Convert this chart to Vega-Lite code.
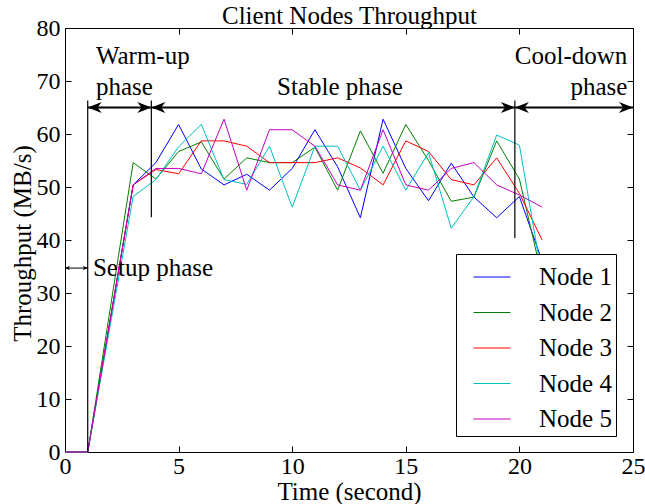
{
  "$schema": "https://vega.github.io/schema/vega-lite/v6.json",
  "autosize": {"type": "none"},
  "width": 568,
  "height": 424,
  "padding": {"left": 65, "top": 28, "right": 12, "bottom": 52},
  "background": "white",
  "config": {
    "view": {"stroke": "black", "strokeWidth": 1},
    "axis": {
      "grid": false, "domainColor": "black", "tickColor": "black", "tickSize": -6,
      "labelFont": "Times New Roman, Liberation Serif, DejaVu Serif, serif", "labelFontSize": 24, "labelColor": "black",
      "titleFont": "Times New Roman, Liberation Serif, DejaVu Serif, serif", "titleFontSize": 25, "titleFontWeight": "normal", "titleColor": "black",
      "labelFlush": false, "labelOverlap": false
    },
    "legend": {
      "orient": "none", "legendX": 391, "legendY": 226,
      "fillColor": "white", "strokeColor": "black", "padding": 4,
      "symbolType": "stroke", "symbolSize": 1369, "symbolStrokeWidth": 1,
      "labelFont": "Times New Roman, Liberation Serif, DejaVu Serif, serif", "labelFontSize": 25, "labelColor": "black",
      "symbolOffset": 13, "labelOffset": 28, "rowPadding": 3.5
    },
    "text": {"font": "Times New Roman, Liberation Serif, DejaVu Serif, serif", "fontSize": 25, "color": "black"}
  },
  "datasets": {
    "nodes": [
      {"t": 0, "node": "Node 1", "v": 0}, {"t": 1, "node": "Node 1", "v": 0}, {"t": 3, "node": "Node 1", "v": 50.4}, {"t": 4, "node": "Node 1", "v": 54.6}, {"t": 5, "node": "Node 1", "v": 61.8}, {"t": 6, "node": "Node 1", "v": 53.4}, {"t": 7, "node": "Node 1", "v": 50.4}, {"t": 8, "node": "Node 1", "v": 52.4}, {"t": 9, "node": "Node 1", "v": 49.4}, {"t": 10, "node": "Node 1", "v": 53.5}, {"t": 11, "node": "Node 1", "v": 60.8}, {"t": 12, "node": "Node 1", "v": 53.8}, {"t": 13, "node": "Node 1", "v": 44.2}, {"t": 14, "node": "Node 1", "v": 62.8}, {"t": 15, "node": "Node 1", "v": 53.5}, {"t": 16, "node": "Node 1", "v": 47.4}, {"t": 17, "node": "Node 1", "v": 54.5}, {"t": 18, "node": "Node 1", "v": 48.1}, {"t": 19, "node": "Node 1", "v": 44.2}, {"t": 20, "node": "Node 1", "v": 48.2}, {"t": 21, "node": "Node 1", "v": 36},
      {"t": 0, "node": "Node 2", "v": 0}, {"t": 1, "node": "Node 2", "v": 0}, {"t": 3, "node": "Node 2", "v": 54.6}, {"t": 4, "node": "Node 2", "v": 51.5}, {"t": 5, "node": "Node 2", "v": 56.7}, {"t": 6, "node": "Node 2", "v": 58.5}, {"t": 7, "node": "Node 2", "v": 51.5}, {"t": 8, "node": "Node 2", "v": 55.5}, {"t": 9, "node": "Node 2", "v": 54.6}, {"t": 10, "node": "Node 2", "v": 54.6}, {"t": 11, "node": "Node 2", "v": 57.5}, {"t": 12, "node": "Node 2", "v": 49.4}, {"t": 13, "node": "Node 2", "v": 60.6}, {"t": 14, "node": "Node 2", "v": 52.6}, {"t": 15, "node": "Node 2", "v": 61.8}, {"t": 16, "node": "Node 2", "v": 55}, {"t": 17, "node": "Node 2", "v": 47.3}, {"t": 18, "node": "Node 2", "v": 48.1}, {"t": 19, "node": "Node 2", "v": 58.7}, {"t": 20, "node": "Node 2", "v": 51.5}, {"t": 21, "node": "Node 2", "v": 33},
      {"t": 0, "node": "Node 3", "v": 0}, {"t": 1, "node": "Node 3", "v": 0}, {"t": 3, "node": "Node 3", "v": 50.4}, {"t": 4, "node": "Node 3", "v": 53.3}, {"t": 5, "node": "Node 3", "v": 52.5}, {"t": 6, "node": "Node 3", "v": 58.7}, {"t": 7, "node": "Node 3", "v": 58.7}, {"t": 8, "node": "Node 3", "v": 57.7}, {"t": 9, "node": "Node 3", "v": 54.6}, {"t": 10, "node": "Node 3", "v": 54.6}, {"t": 11, "node": "Node 3", "v": 54.6}, {"t": 12, "node": "Node 3", "v": 55.5}, {"t": 13, "node": "Node 3", "v": 53.6}, {"t": 14, "node": "Node 3", "v": 50.4}, {"t": 15, "node": "Node 3", "v": 58.7}, {"t": 16, "node": "Node 3", "v": 56.7}, {"t": 17, "node": "Node 3", "v": 51.4}, {"t": 18, "node": "Node 3", "v": 50.4}, {"t": 19, "node": "Node 3", "v": 55.5}, {"t": 20, "node": "Node 3", "v": 48.8}, {"t": 21, "node": "Node 3", "v": 40},
      {"t": 0, "node": "Node 4", "v": 0}, {"t": 1, "node": "Node 4", "v": 0}, {"t": 3, "node": "Node 4", "v": 48.2}, {"t": 4, "node": "Node 4", "v": 51.4}, {"t": 5, "node": "Node 4", "v": 57.6}, {"t": 6, "node": "Node 4", "v": 61.8}, {"t": 7, "node": "Node 4", "v": 51.4}, {"t": 8, "node": "Node 4", "v": 50.5}, {"t": 9, "node": "Node 4", "v": 57.7}, {"t": 10, "node": "Node 4", "v": 46.2}, {"t": 11, "node": "Node 4", "v": 57.7}, {"t": 12, "node": "Node 4", "v": 57.7}, {"t": 13, "node": "Node 4", "v": 49.4}, {"t": 14, "node": "Node 4", "v": 57.7}, {"t": 15, "node": "Node 4", "v": 49.4}, {"t": 16, "node": "Node 4", "v": 56.5}, {"t": 17, "node": "Node 4", "v": 42.2}, {"t": 18, "node": "Node 4", "v": 48.2}, {"t": 19, "node": "Node 4", "v": 59.8}, {"t": 20, "node": "Node 4", "v": 57.9}, {"t": 21, "node": "Node 4", "v": 33},
      {"t": 0, "node": "Node 5", "v": 0}, {"t": 1, "node": "Node 5", "v": 0}, {"t": 3, "node": "Node 5", "v": 50.4}, {"t": 4, "node": "Node 5", "v": 53.5}, {"t": 5, "node": "Node 5", "v": 53.5}, {"t": 6, "node": "Node 5", "v": 52.5}, {"t": 7, "node": "Node 5", "v": 62.8}, {"t": 8, "node": "Node 5", "v": 49.4}, {"t": 9, "node": "Node 5", "v": 60.8}, {"t": 10, "node": "Node 5", "v": 60.8}, {"t": 11, "node": "Node 5", "v": 57.7}, {"t": 12, "node": "Node 5", "v": 50.4}, {"t": 13, "node": "Node 5", "v": 49.4}, {"t": 14, "node": "Node 5", "v": 60.8}, {"t": 15, "node": "Node 5", "v": 50.4}, {"t": 16, "node": "Node 5", "v": 49.4}, {"t": 17, "node": "Node 5", "v": 53.5}, {"t": 18, "node": "Node 5", "v": 54.6}, {"t": 19, "node": "Node 5", "v": 50.4}, {"t": 20, "node": "Node 5", "v": 48.5}, {"t": 21, "node": "Node 5", "v": 46.2}
    ],
    "dividers": [{"x": 1, "y": 0, "y2": 66.3}, {"x": 3.8, "y": 44.3, "y2": 66.3}, {"x": 19.8, "y": 40.4, "y2": 66.3}],
    "arrows": [{"x": 1, "x2": 3.8, "y": 65}, {"x": 3.8, "x2": 19.8, "y": 65}, {"x": 19.8, "x2": 25, "y": 65}],
    "headsL": [{"x": 1, "y": 65}, {"x": 3.8, "y": 65}, {"x": 19.8, "y": 65}],
    "headsR": [{"x": 3.8, "y": 65}, {"x": 19.8, "y": 65}, {"x": 25, "y": 65}],
    "setupArrow": [{"x": 0, "x2": 1, "y": 34.7}],
    "setupL": [{"x": 0, "y": 34.7}],
    "setupR": [{"x": 1, "y": 34.7}],
    "textLeft": [{"x": 1.36, "y": 74.7, "label": "Warm-up"}, {"x": 1.36, "y": 68.9, "label": "phase"}, {"x": 1.23, "y": 34.7, "label": "Setup phase"}],
    "textCenter": [{"x": 12.1, "y": 68.9, "label": "Stable phase"}],
    "textRight": [{"x": 24.75, "y": 74.7, "label": "Cool-down"}, {"x": 24.75, "y": 68.9, "label": "phase"}]
  },
  "resolve": {"axis": {"x": "independent", "y": "independent"}},
  "layer": [
    {
      "data": {"name": "nodes"},
      "mark": {"type": "line", "strokeWidth": 1},
      "encoding": {
        "x": {"field": "t", "type": "quantitative", "scale": {"domain": [0, 25], "nice": false, "zero": false},
              "axis": {"values": [0, 5, 10, 15, 20, 25], "title": "Time (second)", "labelPadding": 8, "titleY": 39, "titleBaseline": "middle"}},
        "y": {"field": "v", "type": "quantitative", "scale": {"domain": [0, 80], "nice": false},
              "axis": {"values": [0, 10, 20, 30, 40, 50, 60, 70, 80], "title": "Throughput (MB/s)", "labelPadding": 11, "titleX": -43, "titleY": 215, "titleBaseline": "middle"}},
        "color": {"field": "node", "type": "nominal",
                  "scale": {"domain": ["Node 1", "Node 2", "Node 3", "Node 4", "Node 5"], "range": ["#0000ff", "#008000", "#ff0000", "#00bfbf", "#bf00bf"]},
                  "legend": {"title": null, "labelExpr": "datum.label + '\u00a0\u00a0'"}}
      }
    },
    {
      "data": {"name": "nodes"},
      "mark": {"type": "line", "opacity": 0},
      "encoding": {
        "x": {"field": "t", "type": "quantitative", "axis": {"orient": "top", "values": [0, 5, 10, 15, 20, 25], "labels": false, "title": "Client Nodes Throughput", "titleY": -5, "titleBaseline": "alphabetic", "titleX": 284}},
        "y": {"field": "v", "type": "quantitative", "axis": {"orient": "right", "values": [0, 10, 20, 30, 40, 50, 60, 70, 80], "labels": false, "title": null}},
        "detail": {"field": "node"}
      }
    },
    {
      "data": {"name": "dividers"},
      "mark": {"type": "rule", "color": "black", "strokeWidth": 1.2},
      "encoding": {
        "x": {"field": "x", "type": "quantitative", "axis": null},
        "y": {"field": "y", "type": "quantitative", "axis": null},
        "y2": {"field": "y2"}
      }
    },
    {
      "data": {"name": "arrows"},
      "mark": {"type": "rule", "color": "black", "strokeWidth": 2},
      "encoding": {
        "x": {"field": "x", "type": "quantitative", "axis": null},
        "x2": {"field": "x2"},
        "y": {"field": "y", "type": "quantitative", "axis": null}
      }
    },
    {
      "data": {"name": "headsL"},
      "mark": {"type": "point", "shape": "M 0 0 L 2 -0.8 L 1.4 0 L 2 0.8 Z", "size": 196, "filled": true, "color": "black", "opacity": 1, "strokeWidth": 0},
      "encoding": {
        "x": {"field": "x", "type": "quantitative", "axis": null},
        "y": {"field": "y", "type": "quantitative", "axis": null}
      }
    },
    {
      "data": {"name": "headsR"},
      "mark": {"type": "point", "shape": "M 0 0 L -2 -0.8 L -1.4 0 L -2 0.8 Z", "size": 196, "filled": true, "color": "black", "opacity": 1, "strokeWidth": 0},
      "encoding": {
        "x": {"field": "x", "type": "quantitative", "axis": null},
        "y": {"field": "y", "type": "quantitative", "axis": null}
      }
    },
    {
      "data": {"name": "setupArrow"},
      "mark": {"type": "rule", "color": "black", "strokeWidth": 1},
      "encoding": {
        "x": {"field": "x", "type": "quantitative", "axis": null},
        "x2": {"field": "x2"},
        "y": {"field": "y", "type": "quantitative", "axis": null}
      }
    },
    {
      "data": {"name": "setupL"},
      "mark": {"type": "point", "shape": "M 0 0 L 2 -0.9 L 1.4 0 L 2 0.9 Z", "size": 25, "filled": true, "color": "black", "opacity": 1, "strokeWidth": 0},
      "encoding": {
        "x": {"field": "x", "type": "quantitative", "axis": null},
        "y": {"field": "y", "type": "quantitative", "axis": null}
      }
    },
    {
      "data": {"name": "setupR"},
      "mark": {"type": "point", "shape": "M 0 0 L -2 -0.9 L -1.4 0 L -2 0.9 Z", "size": 25, "filled": true, "color": "black", "opacity": 1, "strokeWidth": 0},
      "encoding": {
        "x": {"field": "x", "type": "quantitative", "axis": null},
        "y": {"field": "y", "type": "quantitative", "axis": null}
      }
    },
    {
      "data": {"name": "textLeft"},
      "mark": {"type": "text", "align": "left", "baseline": "middle"},
      "encoding": {
        "x": {"field": "x", "type": "quantitative", "axis": null},
        "y": {"field": "y", "type": "quantitative", "axis": null},
        "text": {"field": "label"}
      }
    },
    {
      "data": {"name": "textCenter"},
      "mark": {"type": "text", "align": "center", "baseline": "middle"},
      "encoding": {
        "x": {"field": "x", "type": "quantitative", "axis": null},
        "y": {"field": "y", "type": "quantitative", "axis": null},
        "text": {"field": "label"}
      }
    },
    {
      "data": {"name": "textRight"},
      "mark": {"type": "text", "align": "right", "baseline": "middle"},
      "encoding": {
        "x": {"field": "x", "type": "quantitative", "axis": null},
        "y": {"field": "y", "type": "quantitative", "axis": null},
        "text": {"field": "label"}
      }
    }
  ]
}
